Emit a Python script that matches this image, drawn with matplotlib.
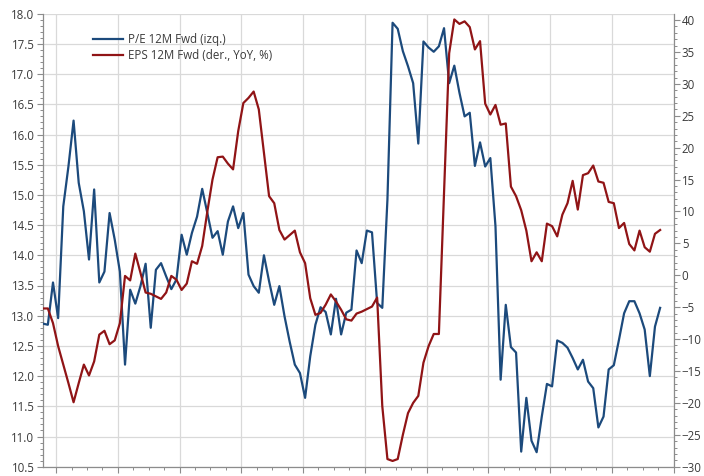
import numpy as np
import matplotlib
matplotlib.use("Agg")
import matplotlib.pyplot as plt
from matplotlib.ticker import MultipleLocator, FixedLocator, NullFormatter

pe_label = "P/E 12M Fwd (izq.)"
eps_label = "EPS 12M Fwd (der., YoY, %)"

pe_12m_fwd = [
    12.87, 12.85, 13.55, 12.96, 14.81, 15.47, 16.23, 15.20, 14.73, 13.93,
    15.09, 13.55, 13.73, 14.70, 14.26, 13.73, 12.19, 13.43, 13.20, 13.49,
    13.86, 12.80, 13.76, 13.87, 13.65, 13.44, 13.60, 14.34, 14.01, 14.37,
    14.64, 15.10, 14.70, 14.29, 14.40, 14.01, 14.56, 14.81, 14.45, 14.70,
    13.68, 13.49, 13.38, 14.00, 13.57, 13.18, 13.49, 12.99, 12.57, 12.19,
    12.05, 11.64, 12.33, 12.85, 13.14, 13.06, 12.69, 13.28, 12.69, 13.05,
    13.10, 14.08, 13.87, 14.41, 14.38, 13.21, 13.13, 14.92, 17.85, 17.75,
    17.38, 17.13, 16.85, 15.85, 17.54, 17.44, 17.37, 17.46, 17.76, 16.85,
    17.14, 16.69, 16.30, 16.36, 15.48, 15.87, 15.47, 15.61, 14.48, 11.94,
    13.18, 12.48, 12.39, 10.75, 11.64, 10.93, 10.74, 11.33, 11.87, 11.83,
    12.59, 12.55, 12.47, 12.30, 12.11, 12.27, 11.91, 11.80, 11.15, 11.33,
    12.11, 12.18, 12.60, 13.04, 13.24, 13.24, 13.04, 12.77, 12.00, 12.82,
    13.13,
]

eps_12m_fwd_yoy = [
    -5.2, -5.2, -7.5, -11.1, -14.0, -16.9, -19.9, -16.9, -14.0, -15.7,
    -13.5, -9.3, -8.7, -10.8, -10.2, -7.5, -0.1, -0.8, 3.4, 0.4,
    -2.7, -2.9, -3.3, -3.7, -2.7, -0.1, -0.7, -2.3, -1.3, 2.2,
    1.8, 4.6, 10.0, 15.0, 18.5, 18.6, 17.5, 16.6, 22.6, 27.0,
    27.8, 28.8, 26.0, 19.2, 12.4, 11.3, 7.1, 5.6, 6.3, 7.0,
    3.6, 1.9, -3.6, -6.2, -5.9, -4.6, -3.0, -4.1, -5.4, -6.9,
    -7.1, -6.0, -5.7, -5.3, -4.9, -3.5, -20.5, -28.8, -29.1, -28.8,
    -25.0, -21.6, -20.0, -18.9, -13.7, -11.1, -9.2, -9.2, 12.9, 34.8,
    40.1, 39.4, 39.8, 38.9, 35.4, 36.7, 26.9, 25.2, 26.7, 23.6,
    23.8, 13.9, 12.4, 10.2, 7.0, 2.2, 3.6, 2.2, 8.1, 7.7,
    6.1, 9.5, 11.3, 14.8, 10.3, 15.7, 16.0, 17.2, 14.7, 14.5,
    11.5, 11.3, 7.4, 8.2, 4.9, 3.9, 7.0, 4.4, 3.7, 6.5,
    7.1,
]

months = np.arange(len(pe_12m_fwd))

# ---- style ----
BLUE = "#1C4A7C"
RED = "#901416"
GRID = "#D9D9D9"
AXIS = "#8C8C8C"
TXT = "#3A3A3A"
FONT = ["Open Sans", "DejaVu Sans"]
FS = 8.3

plt.rcParams["font.family"] = FONT

fig = plt.figure(figsize=(7.04, 4.76), dpi=100)
ax = fig.add_axes([42.7 / 704, 9.3 / 476, (673.5 - 42.7) / 704, (467 - 14) / 476])
ax2 = ax.twinx()

l1, = ax.plot(months, pe_12m_fwd, color=BLUE, lw=1.6, label=pe_label, zorder=3)
l2, = ax2.plot(months, eps_12m_fwd_yoy, color=RED, lw=1.6, label=eps_label, zorder=3)

# x axis: yearly gridlines, quarterly minor ticks, no labels
x_end = 122.6
x_off = 2.6
ax.set_xlim(0, x_end)
ax.xaxis.set_major_locator(FixedLocator(np.arange(x_off, x_end + 0.01, 12)))
ax.xaxis.set_minor_locator(FixedLocator(np.arange(x_off, x_end + 0.01, 3)))
ax.xaxis.set_major_formatter(NullFormatter())

# left axis
ax.set_ylim(10.5, 18.0)
ax.yaxis.set_major_locator(MultipleLocator(0.5))
ax.yaxis.set_minor_locator(MultipleLocator(0.1))
ax.yaxis.set_major_formatter(matplotlib.ticker.FormatStrFormatter("%.1f"))

# right axis
ax2.set_ylim(-30, 41)
ax2.yaxis.set_major_locator(FixedLocator(np.arange(-30, 41, 5)))
ax2.yaxis.set_minor_locator(FixedLocator(np.arange(-30, 41, 1)))

ax.grid(True, which="major", color=GRID, lw=0.9)
ax.set_axisbelow(True)

for a in (ax, ax2):
    a.spines["top"].set_visible(False)
    for s in ("left", "right", "bottom"):
        a.spines[s].set_color(AXIS)
        a.spines[s].set_linewidth(0.9)
    a.tick_params(which="major", length=4, width=0.8, color=AXIS, labelsize=FS,
                  labelcolor=TXT, pad=2)
    a.tick_params(which="minor", length=2.5, width=0.7, color=AXIS)
ax2.spines["left"].set_visible(False)
ax.spines["right"].set_visible(False)
ax2.spines["bottom"].set_visible(False)
ax2.tick_params(axis="x", which="both", bottom=False, labelbottom=False)

ax2.set_zorder(ax.get_zorder() + 1)
ax2.patch.set_visible(False)

leg = ax.legend(handles=[l1, l2], loc="upper left",
                bbox_to_anchor=(50.5 / 630.8, 1 - 19.5 / 453), frameon=False,
                fontsize=FS, handlelength=2.6, handletextpad=0.4,
                labelspacing=0.25, borderaxespad=0, borderpad=0)
for t in leg.get_texts():
    t.set_color(TXT)

fig.savefig("out.png", dpi=100)
